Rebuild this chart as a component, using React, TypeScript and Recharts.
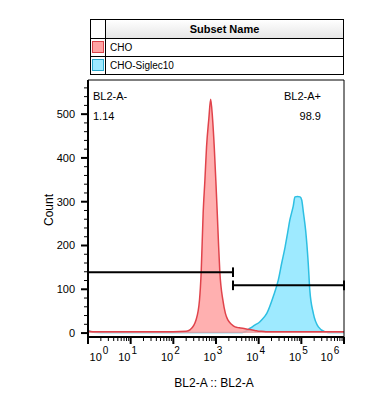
import React from "react";
import { Area, ComposedChart, ReferenceLine, XAxis, YAxis } from "recharts";

// fluorescence intensity (BL2-A), log axis
const intensity = [
  1, 1.3, 3, 10, 30, 100, 200, 250, 340, 410, 450, 500, 550, 600, 680, 750,
  830, 910, 1000, 1070, 1150, 1230, 1450, 1660, 1900, 2300, 2800, 3500, 4800,
  6300, 8100, 10700, 11700, 15500, 21900, 28800, 34700, 41700, 47900, 53700,
  58900, 64600, 70800, 81300, 93300, 102000, 112000, 126000, 145000, 158000,
  191000, 251000, 355000, 500000, 1000000,
];
const choCounts = [
  4, 3, 3, 3, 3, 3, 4, 8, 30, 75, 140, 274, 350, 425, 490, 534, 490, 425, 340,
  274, 200, 140, 75, 45, 30, 20, 14, 12, 10, 8, 6, 4, 4, 3, 3, 3, 3, 3, 3, 3,
  3, 3, 3, 3, 3, 3, 3, 3, 3, 3, 3, 3, 3, 3, 3,
];
const siglecCounts = [
  6, 2, 1, 1, 1, 1, 1, 1, 1, 1, 1, 1, 1, 1, 1, 1, 1, 1, 1, 1, 1, 1, 1, 1, 1, 1,
  1, 1, 3, 11, 18, 26, 30, 45, 83, 121, 160, 197, 230, 258, 274, 290, 311, 312,
  311, 304, 275, 235, 160, 98, 45, 14, 3, 1, 1,
];

const subsetNames = ["CHO", "CHO-Siglec10"];

// gates: [from, to, count level]
const gateNeg = { from: 1, to: 2500, level: 139, name: "BL2-A-", pct: "1.14" };
const gatePos = { from: 2500, to: 1000000, level: 109, name: "BL2-A+", pct: "98.9" };

const xMajorTicks = [1, 10, 100, 1000, 10000, 100000, 1000000];
const xExponents = ["0", "1", "2", "3", "4", "5", "6"];
const xTicks = xMajorTicks
  .slice(0, -1)
  .flatMap((d) => [d, 2 * d, 3 * d, 4 * d, 5 * d, 6 * d, 7 * d, 8 * d, 9 * d])
  .concat([1000000]);
const yTicks = [
  0, 20, 40, 60, 80, 100, 120, 140, 160, 180, 200, 220, 240, 260, 280, 300, 320,
  340, 360, 380, 400, 420, 440, 460, 480, 500, 520, 540, 560,
];

const data = intensity.map((v, i) => ({
  v,
  cho: choCounts[i],
  siglec: siglecCounts[i],
}));

const FONT = "'Liberation Sans', Arial, sans-serif";
const CAP = 11;

function YTick(props: any) {
  const { x, y, payload } = props;
  const major = payload.value % 100 === 0;
  return (
    <g>
      <line
        x1={x}
        x2={x - (major ? 7 : 4)}
        y1={y}
        y2={y}
        stroke="#000"
        strokeWidth={major ? 2 : 1}
      />
      {major && (
        <text x={x - 13} y={y + 4} textAnchor="end" fontSize={11} fontFamily={FONT} fill="#000">
          {payload.value}
        </text>
      )}
    </g>
  );
}

function XTick(props: any) {
  const { x, y, payload } = props;
  const idx = xMajorTicks.indexOf(payload.value);
  const major = idx >= 0;
  let dx = 0;
  if (idx === 0) dx = 14;
  if (idx === xMajorTicks.length - 1) dx = -11;
  return (
    <g>
      <line
        x1={x}
        x2={x}
        y1={y}
        y2={y + (major ? 7 : 4)}
        stroke="#000"
        strokeWidth={major ? 2 : 1}
      />
      {major && (
        <text x={x + dx - 3} y={y + 24} textAnchor="middle" fontSize={11} fontFamily={FONT} fill="#000">
          10
          <tspan dx={1} dy={-7} fontSize={10}>
            {xExponents[idx]}
          </tspan>
        </text>
      )}
    </g>
  );
}

const cell: React.CSSProperties = {
  position: "absolute",
  boxSizing: "border-box",
  border: "1px solid #000",
};

export default function App() {
  return (
    <div style={{ position: "absolute", left: 0, top: 0, width: 365, height: 406, background: "#fff", fontFamily: FONT }}>
      {/* subset legend table */}
      <div style={{ ...cell, left: 90, top: 19, width: 16, height: 20 }} />
      <div
        style={{
          ...cell,
          left: 105,
          top: 19,
          width: 239,
          height: 20,
          background: "linear-gradient(#ffffff, #e6e6e6)",
          fontWeight: "bold",
          fontSize: 11,
          textAlign: "center",
          lineHeight: "18px",
        }}
      >
        Subset Name
      </div>
      {subsetNames.map((name, i) => (
        <React.Fragment key={name}>
          <div style={{ ...cell, left: 90, top: 38 + i * 18, width: 16, height: 19 }}>
            <div
              style={{
                position: "absolute",
                left: 1,
                top: 2,
                width: 12,
                height: 12,
                boxSizing: "border-box",
                border: i === 0 ? "1px solid #d9434a" : "1px solid #2aa8cc",
                background: i === 0 ? "#ffa3a3" : "#9ee9ff",
              }}
            />
          </div>
          <div
            style={{
              ...cell,
              left: 105,
              top: 38 + i * 18,
              width: 239,
              height: 19,
              fontSize: 10,
              lineHeight: "17px",
              paddingLeft: 4,
            }}
          >
            {name}
          </div>
        </React.Fragment>
      ))}

      <div style={{ position: "absolute", left: 0, top: 0 }}>
        <ComposedChart
          width={365}
          height={406}
          data={data}
          margin={{ top: 80, right: 21, bottom: 29, left: 48 }}
        >
          <XAxis
            dataKey="v"
            type="number"
            scale="log"
            domain={[1, 1000000]}
            allowDataOverflow
            ticks={xTicks}
            interval={0}
            tickSize={0}
            tickMargin={0}
            tickLine={false}
            tick={<XTick />}
            height={40}
            axisLine={{ stroke: "#000", strokeWidth: 2 }}
          />
          <YAxis
            type="number"
            domain={[-9, 578]}
            allowDataOverflow
            ticks={yTicks}
            interval={0}
            tickSize={0}
            tickMargin={0}
            tickLine={false}
            tick={<YTick />}
            width={40}
            axisLine={{ stroke: "#000", strokeWidth: 2 }}
          />
          <Area
            type="monotone"
            dataKey="siglec"
            stroke="#2dbfe2"
            strokeWidth={1.5}
            fill="#93e8ff"
            fillOpacity={0.9}
            dot={false}
            activeDot={false}
            isAnimationActive={false}
          />
          <Area
            type="monotone"
            dataKey="cho"
            stroke="#e0434b"
            strokeWidth={1.5}
            fill="#ff9c9c"
            fillOpacity={0.8}
            dot={false}
            activeDot={false}
            isAnimationActive={false}
          />
          <ReferenceLine y={578} stroke="#000" strokeWidth={1} />
          <ReferenceLine x={1000000} stroke="#000" strokeWidth={1} />
          <ReferenceLine
            segment={[{ x: gateNeg.from, y: gateNeg.level }, { x: gateNeg.to, y: gateNeg.level }]}
            stroke="#000"
            strokeWidth={2}
          />
          <ReferenceLine
            segment={[{ x: gateNeg.to, y: gateNeg.level - CAP }, { x: gateNeg.to, y: gateNeg.level + CAP }]}
            stroke="#000"
            strokeWidth={2}
          />
          <ReferenceLine
            segment={[{ x: gatePos.from, y: gatePos.level }, { x: gatePos.to, y: gatePos.level }]}
            stroke="#000"
            strokeWidth={2}
          />
          <ReferenceLine
            segment={[{ x: gatePos.from, y: gatePos.level - CAP }, { x: gatePos.from, y: gatePos.level + CAP }]}
            stroke="#000"
            strokeWidth={2}
          />
          <ReferenceLine
            segment={[{ x: gatePos.to, y: gatePos.level - CAP }, { x: gatePos.to, y: gatePos.level + CAP }]}
            stroke="#000"
            strokeWidth={2}
            ifOverflow="visible"
          />
        </ComposedChart>
      </div>

      {/* gate annotations */}
      <div style={{ position: "absolute", left: 93, top: 90, fontSize: 11 }}>{gateNeg.name}</div>
      <div style={{ position: "absolute", left: 93, top: 110, fontSize: 11 }}>{gateNeg.pct}</div>
      <div style={{ position: "absolute", right: 365 - 321, top: 90, fontSize: 11 }}>{gatePos.name}</div>
      <div style={{ position: "absolute", right: 365 - 321, top: 110, fontSize: 11 }}>{gatePos.pct}</div>

      {/* axis titles */}
      <div
        style={{
          position: "absolute",
          left: 49,
          top: 210,
          fontSize: 12,
          transform: "translate(-50%, -50%) rotate(-90deg)",
          whiteSpace: "nowrap",
        }}
      >
        Count
      </div>
      <div
        style={{
          position: "absolute",
          left: 214,
          top: 383,
          fontSize: 12,
          transform: "translate(-50%, -50%)",
          whiteSpace: "nowrap",
        }}
      >
        BL2-A :: BL2-A
      </div>
    </div>
  );
}
